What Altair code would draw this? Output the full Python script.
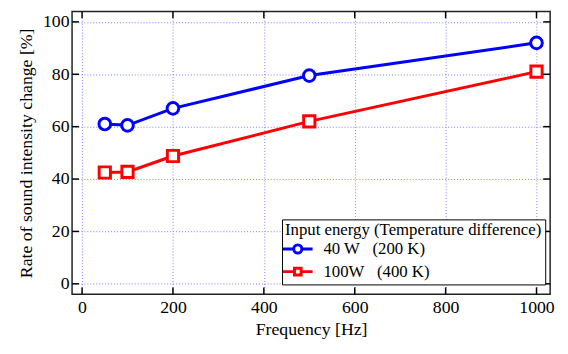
import altair as alt
import pandas as pd

freq = [50, 100, 200, 500, 1000]
s40 = [61.0, 60.5, 67.0, 79.5, 92.0]
s100 = [42.5, 42.7, 48.8, 62.0, 81.0]
series_names = ["40W", "100W"]
x_ticks = [0, 200, 400, 600, 800, 1000]
y_ticks = [0, 20, 40, 60, 80, 100]

W, H = 485, 287
FONT = "Liberation Serif"

df = pd.DataFrame(
    {"freq": freq * 2, "val": s40 + s100, "series": ["40W"] * 5 + ["100W"] * 5}
)
xt = pd.DataFrame({"t": x_ticks})
yt = pd.DataFrame({"t": y_ticks})

xs = alt.Scale(domain=[-22, 1030], nice=False, zero=False)
ys = alt.Scale(domain=[-4, 104], nice=False, zero=False)
cs = alt.Scale(domain=series_names, range=["#0000ff", "#ff0000"])

xaxis = alt.Axis(values=x_ticks, title="Frequency [Hz]", grid=True, domain=False, format="d",
                 ticks=False, labelPadding=4, titlePadding=5,
                 labelFont=FONT, labelFontSize=18, titleFont=FONT, titleFontSize=18)
yaxis = alt.Axis(values=y_ticks, title="Rate of sound intensity change [%]", grid=True,
                 domain=False, ticks=False, labelPadding=3, titlePadding=7,
                 labelFont=FONT, labelFontSize=18, titleFont=FONT, titleFontSize=18)

base = alt.Chart(df)
line40 = base.transform_filter(alt.datum.series == "40W").mark_line(strokeWidth=3, color="#0000ff").encode(
    x=alt.X("freq:Q", scale=xs, axis=xaxis),
    y=alt.Y("val:Q", scale=ys, axis=yaxis),
)
line100 = base.transform_filter(alt.datum.series == "100W").mark_line(strokeWidth=3, color="#ff0000").encode(
    x=alt.X("freq:Q", scale=xs),
    y=alt.Y("val:Q", scale=ys),
)
circ = base.transform_filter(alt.datum.series == "40W").mark_point(
    shape="circle", size=140, filled=True, fill="white", stroke="#0000ff", strokeWidth=3, opacity=1
).encode(x=alt.X("freq:Q", scale=xs), y=alt.Y("val:Q", scale=ys))
sq = base.transform_filter(alt.datum.series == "100W").mark_point(
    shape="square", size=130, filled=True, fill="white", stroke="#ff0000", strokeWidth=3, opacity=1
).encode(x=alt.X("freq:Q", scale=xs), y=alt.Y("val:Q", scale=ys))

circle_path = "M-2,0H-0.55M0.55,0H2M-0.55,0A0.55,0.55 0 1,1 0.55,0A0.55,0.55 0 1,1 -0.55,0Z"
square_path = "M-2,0H-0.45M0.45,0H2M-0.45,-0.45H0.45V0.45H-0.45Z"

legend_layer = base.mark_point(clip=True, filled=False, strokeWidth=3, opacity=1, size=225).encode(
    x=alt.value(-200),
    y=alt.value(-200),
    color=alt.Color("series:N", scale=cs, sort=series_names, legend=alt.Legend(
        title="Input energy (Temperature difference)",
        orient="none", legendX=213, legendY=211,
        strokeColor="black", fillColor="white", padding=3,
        titleFont=FONT, titleFontSize=17, titleFontWeight="normal", titleColor="black",
        titlePadding=1, titleLimit=500, labelLimit=400,
        labelFont=FONT, labelFontSize=17, labelColor="black", labelOffset=17,
        rowPadding=2, symbolStrokeWidth=3, symbolSize=225, symbolOffset=4,
        labelExpr="datum.label == '40W' ? '\u200740 W\u00a0\u00a0\u00a0(200 K)' : '100W\u00a0\u00a0\u00a0(400 K)'",
    )),
    shape=alt.Shape("series:N", scale=alt.Scale(domain=series_names, range=[circle_path, square_path]),
                    sort=series_names),
)

tick_len = 7
top_t = alt.Chart(xt).mark_rule(color="black", strokeWidth=1.5).encode(
    x=alt.X("t:Q", scale=xs), y=alt.value(0), y2=alt.value(tick_len))
bot_t = alt.Chart(xt).mark_rule(color="black", strokeWidth=1.5).encode(
    x=alt.X("t:Q", scale=xs), y=alt.value(H - tick_len), y2=alt.value(H))
left_t = alt.Chart(yt).mark_rule(color="black", strokeWidth=1.5).encode(
    y=alt.Y("t:Q", scale=ys), x=alt.value(0), x2=alt.value(tick_len))
right_t = alt.Chart(yt).mark_rule(color="black", strokeWidth=1.5).encode(
    y=alt.Y("t:Q", scale=ys), x=alt.value(W - tick_len), x2=alt.value(W))

chart = alt.layer(line40, line100, circ, sq, legend_layer, top_t, bot_t, left_t, right_t).properties(
    width=W, height=H,
    autosize=alt.AutoSizeParams(type="none"),
    padding={"left": 65, "top": 1, "right": 10, "bottom": 50},
).configure(
    font=FONT
).configure_view(
    stroke="#222", strokeWidth=1.5
).configure_axis(
    labelFont=FONT, labelFontSize=18, labelColor="black",
    titleFont=FONT, titleFontSize=18, titleFontWeight="normal", titleColor="black",
    gridColor="#7070ff", gridDash=[1, 2], gridWidth=1, gridOpacity=0.9,
)

chart.save("out.html", embed_options={"renderer": "svg", "actions": False})
